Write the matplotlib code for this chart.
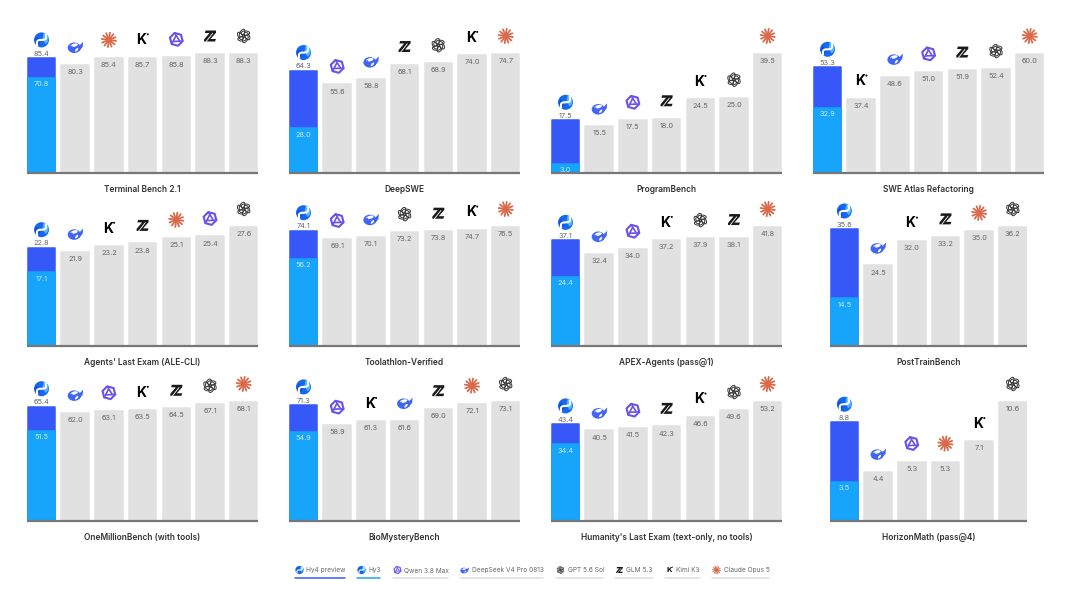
import numpy as np
import matplotlib
matplotlib.use("Agg")
import matplotlib.pyplot as plt
from matplotlib.patches import Circle, Ellipse, Polygon, Wedge

plt.rcParams["font.family"] = ["Inter", "DejaVu Sans"]

# benchmark names, left to right, top to bottom
titles = ["Terminal Bench 2.1", "DeepSWE", "ProgramBench", "SWE Atlas Refactoring",
          "Agents' Last Exam (ALE-CLI)", "Toolathlon-Verified", "APEX-Agents (pass@1)", "PostTrainBench",
          "OneMillionBench (with tools)", "BioMysteryBench", "Humanity's Last Exam (text-only, no tools)", "HorizonMath (pass@4)"]

hy4_scores = [85.4, 64.3, 17.5, 53.3, 22.8, 74.1, 37.1, 35.6, 65.4, 71.3, 43.4, 8.8]
hy3_scores = [70.8, 28.0, 3.0, 32.9, 17.1, 56.2, 24.4, 14.5, 51.5, 54.9, 34.4, 3.5]

other_models = [
    ["deepseek", "claude", "kimi", "qwen", "glm", "gpt"],
    ["qwen", "deepseek", "glm", "gpt", "kimi", "claude"],
    ["deepseek", "qwen", "glm", "kimi", "gpt", "claude"],
    ["kimi", "deepseek", "qwen", "glm", "gpt", "claude"],
    ["deepseek", "kimi", "glm", "claude", "qwen", "gpt"],
    ["qwen", "deepseek", "gpt", "glm", "kimi", "claude"],
    ["deepseek", "qwen", "kimi", "gpt", "glm", "claude"],
    ["deepseek", "kimi", "glm", "claude", "gpt"],
    ["deepseek", "qwen", "kimi", "glm", "gpt", "claude"],
    ["qwen", "kimi", "deepseek", "glm", "claude", "gpt"],
    ["deepseek", "qwen", "glm", "kimi", "gpt", "claude"],
    ["deepseek", "qwen", "claude", "kimi", "gpt"],
]
other_scores = [
    [80.3, 85.4, 85.7, 85.8, 88.3, 88.3],
    [55.6, 58.8, 68.1, 68.9, 74.0, 74.7],
    [15.5, 17.5, 18.0, 24.5, 25.0, 39.5],
    [37.4, 48.6, 51.0, 51.9, 52.4, 60.0],
    [21.9, 23.2, 23.8, 25.1, 25.4, 27.6],
    [69.1, 70.1, 73.2, 73.8, 74.7, 76.5],
    [32.4, 34.0, 37.2, 37.9, 38.1, 41.8],
    [24.5, 32.0, 33.2, 35.0, 36.2],
    [62.0, 63.1, 63.5, 64.5, 67.1, 68.1],
    [58.9, 61.3, 61.6, 69.0, 72.1, 73.1],
    [40.5, 41.5, 42.3, 46.6, 49.6, 53.2],
    [4.4, 5.3, 5.3, 7.1, 10.6],
]

legend_names = ["Hy4 preview", "Hy3", "Qwen 3.8 Max", "DeepSeek V4 Pro 0813", "GPT 5.6 Sol", "GLM 5.3", "Kimi K3", "Claude Opus 5"]
legend_icons = ["hy", "hy", "qwen", "deepseek", "gpt", "glm", "kimi", "claude"]

W, H = 1080, 596
fig = plt.figure(figsize=(W / 100, H / 100), dpi=100, facecolor="white")

# overlay in pixel coordinates, for icons and legend
over = fig.add_axes([0, 0, 1, 1], zorder=5)
over.set_xlim(0, W)
over.set_ylim(H, 0)
over.axis("off")


def draw_icon(name, cx, cy, s=1.0):
    if name == "hy":
        over.add_patch(Circle((cx, cy), 7.5 * s, color="#1668ee", lw=0))
        over.add_patch(Wedge((cx + 1 * s, cy - 1 * s), 6 * s, 280, 60, color="#52b6fa", lw=0))
        over.add_patch(Wedge((cx - 1 * s, cy + 1 * s), 5.5 * s, 110, 230, color="#0b4fdc", lw=0))
        # white swirl running from lower left to upper right
        t = np.linspace(-1, 1, 30)
        u = 6.8 * s * t
        v = 2.4 * s * np.sin(np.pi * t)
        a = np.deg2rad(-50)
        over.plot(cx + u * np.cos(a) - v * np.sin(a), cy + u * np.sin(a) + v * np.cos(a), color="white", lw=1.5 * s)
    elif name == "deepseek":
        c = "#4065f6"
        over.add_patch(Ellipse((cx - 1 * s, cy + 1 * s), 13 * s, 10.5 * s, color=c, lw=0))
        over.add_patch(Ellipse((cx - 1 * s, cy - 1.6 * s), 7.5 * s, 3.2 * s, angle=-15, color="white", lw=0))
        over.add_patch(Ellipse((cx + 1.5 * s, cy + 3 * s), 4.5 * s, 2 * s, angle=-50, color="white", lw=0))
        over.add_patch(Polygon([(cx + 3 * s, cy + 0 * s), (cx + 8 * s, cy - 5 * s), (cx + 7.5 * s, cy + 0 * s), (cx + 4 * s, cy + 4.5 * s)], color=c, lw=0))
        over.add_patch(Circle((cx - 3.5 * s, cy - 0.2 * s), 0.9 * s, color=c, lw=0))
    elif name == "claude":
        for a in np.deg2rad(np.arange(0, 360, 30) + 8):
            over.plot([cx + 1.0 * s * np.cos(a), cx + 7.2 * s * np.cos(a)], [cy + 1.0 * s * np.sin(a), cy + 7.2 * s * np.sin(a)],
                      color="#d9694a", lw=1.3 * s, solid_capstyle="round")
    elif name == "kimi":
        over.text(cx - 1.2 * s, cy + 0.6 * s, "K", color="black", fontsize=10 * s, fontweight="bold", ha="center", va="center")
        over.add_patch(Circle((cx + 5.2 * s, cy - 5.2 * s), 1.0 * s, color="black", lw=0))
    elif name == "qwen":
        c = "#6a50ec"
        ang = np.deg2rad(np.arange(0, 360, 60) + 15)
        hexa = [(cx + 6.6 * s * np.cos(a), cy + 6.6 * s * np.sin(a)) for a in ang]
        over.add_patch(Polygon(hexa, closed=True, fill=False, ec=c, lw=1.5 * s, joinstyle="round"))
        for a in ang[::2]:
            b = a + np.deg2rad(125)
            over.plot([cx + 6.6 * s * np.cos(a), cx + 3.2 * s * np.cos(b)], [cy + 6.6 * s * np.sin(a), cy + 3.2 * s * np.sin(b)],
                      color=c, lw=1.2 * s, solid_capstyle="round")
    elif name == "glm":
        over.add_patch(Polygon([(cx - 4.5 * s, cy - 5.5 * s), (cx + 6 * s, cy - 5.5 * s), (cx + 6 * s, cy - 3.2 * s),
                                (cx + 0.5 * s, cy + 3 * s), (cx + 6 * s, cy + 3 * s), (cx + 5 * s, cy + 5.5 * s),
                                (cx - 6 * s, cy + 5.5 * s), (cx - 6 * s, cy + 3.5 * s), (cx - 0.5 * s, cy - 3 * s), (cx - 5.2 * s, cy - 3 * s)],
                               color="#1a1a1a", lw=0))
        over.plot([cx - 3.8 * s, cx + 2.6 * s], [cy + 5.5 * s, cy - 2.6 * s], color="white", lw=0.6 * s)
    elif name == "gpt":
        for a in range(0, 360, 60):
            r = np.deg2rad(a)
            over.add_patch(Ellipse((cx + 3.4 * s * np.cos(r), cy + 3.4 * s * np.sin(r)), 8.4 * s, 4.2 * s, angle=a + 60,
                                   fill=False, ec="#333333", lw=0.7 * s))


# pixel placement of the panels
lefts = [27, 289, 551, 813]
baselines = [173, 346, 521]
bar_px, pitch_px, top_px = 29, 33.7, 119
ax_h = 150

for i, title in enumerate(titles):
    row, col = divmod(i, 4)
    scores = [hy4_scores[i]] + other_scores[i]
    n = len(scores)
    panel_w = 7 * pitch_px - (pitch_px - bar_px)
    w_px = n * pitch_px - (pitch_px - bar_px)
    x0 = lefts[col] + (panel_w - w_px) / 2
    base = baselines[row]
    ax = fig.add_axes([x0 / W, (H - base) / H, w_px / W, ax_h / H], zorder=2)
    ax.set_xlim(-bar_px / 2 / pitch_px, n - 1 + bar_px / 2 / pitch_px)
    ax.set_ylim(0, max(scores) * ax_h / top_px)
    ax.axis("off")

    xs = np.arange(n)
    bw = (bar_px - 1.5) / pitch_px
    ax.bar(xs[1:], other_scores[i], width=bw, color="#e1e1e1", edgecolor="#e1e1e1", linewidth=1.1, joinstyle="round")
    ax.bar(xs[0], hy4_scores[i], width=bw, color="#3658f8", edgecolor="#3658f8", linewidth=1.1, joinstyle="round")
    ax.bar(xs[0], hy3_scores[i], width=bw, color="#16a5fb", edgecolor="#16a5fb", linewidth=1.1, joinstyle="miter")
    ax.plot([-bar_px / 2 / pitch_px, n - 1 + bar_px / 2 / pitch_px], [0, 0], color="#777777", lw=1.6, clip_on=False, solid_capstyle="butt")

    ax.annotate(f"{hy4_scores[i]:.1f}", (0, hy4_scores[i]), xytext=(0, 1), textcoords="offset points",
                ha="center", va="bottom", fontsize=5.3, color="#666666")
    ax.annotate(f"{hy3_scores[i]:.1f}", (0, hy3_scores[i]), xytext=(0, -2.5), textcoords="offset points",
                ha="center", va="top", fontsize=5.3, color="#c8eaff")
    for x, v in zip(xs[1:], other_scores[i]):
        ax.annotate(f"{v:.1f}", (x, v), xytext=(0, -3), textcoords="offset points",
                    ha="center", va="top", fontsize=5.3, color="#666666")

    over.text(x0 + w_px / 2, base + 16.5, title, ha="center", va="center", fontsize=6.0, fontweight="semibold", color="#333333")

    names = ["hy"] + other_models[i]
    for x, v, name in zip(xs, scores, names):
        px, py = ax.transData.transform((x, v))
        draw_icon(name, px, H - py - 18)

# legend
legend_x = [(295, 345), (357, 380), (393, 448), (460, 543), (556, 603), (615, 653), (665, 700), (712, 769)]
for j, (name, icon) in enumerate(zip(legend_names, legend_icons)):
    a, b = legend_x[j]
    draw_icon(icon, a + 4.5, 570, 0.55)
    over.text(a + 11.5, 570.3, name, ha="left", va="center", fontsize=4.7, color="#666666")
    col = "#3658f8" if j == 0 else "#16a5fb" if j == 1 else "#dedede"
    over.plot([a, b], [577.5, 577.5], color=col, lw=1.1, solid_capstyle="round")

fig.savefig("out.png", dpi=100, facecolor="white")
